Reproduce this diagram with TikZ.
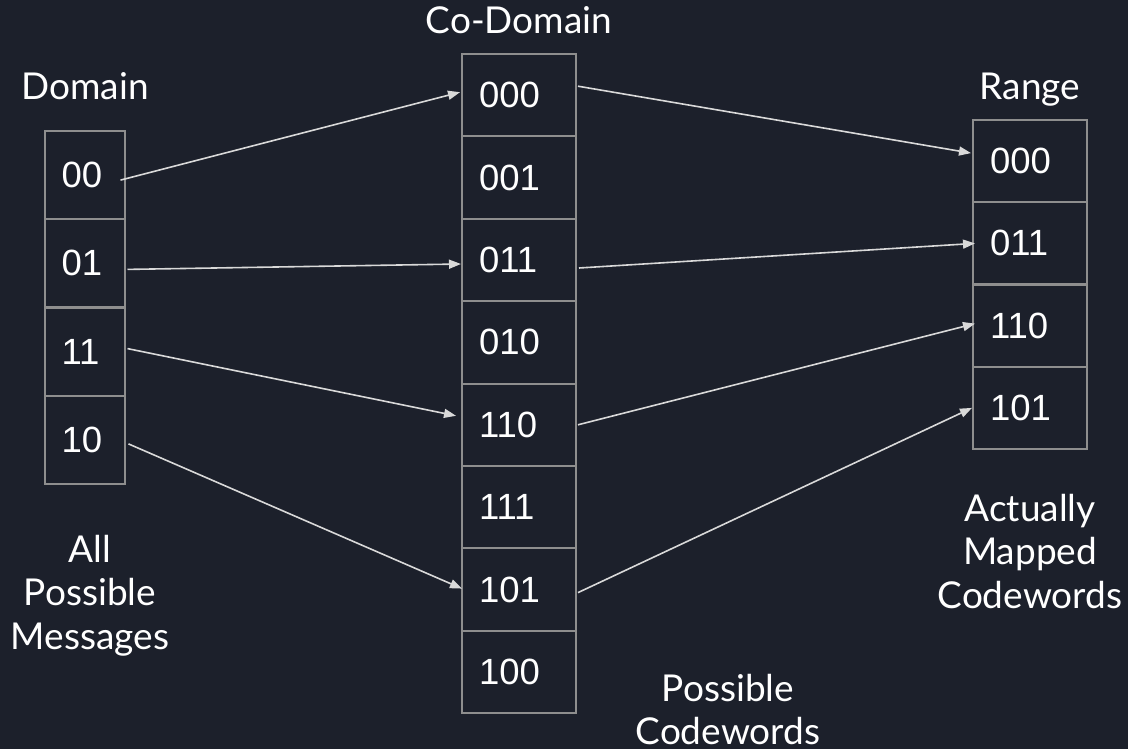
\documentclass[tikz,border=0pt]{standalone}
\usepackage{fontspec}
\setmainfont{Lato}
\newfontfamily\numfont{Liberation Sans}
\usetikzlibrary{arrows.meta,calc}
\definecolor{bg}{HTML}{1C202B}
\definecolor{boxc}{HTML}{8E8E8E}
\definecolor{arr}{HTML}{D9D9D9}
\begin{document}
\begin{tikzpicture}[x=1pt,y=-1pt,
  cell/.style={draw=boxc, line width=2pt, rectangle, text=white,
    font=\fontsize{36.5}{40}\selectfont\numfont, inner xsep=17pt, inner ysep=0pt,
    align=left, outer sep=0pt},
  dcell/.style={cell, minimum width=80pt, minimum height=88.25pt, text width=46pt},
  ccell/.style={cell, minimum width=114pt, minimum height=82.4pt, text width=80pt},
  rcell/.style={cell, minimum width=114pt, minimum height=82.25pt, text width=80pt},
  lbl/.style={text=white, font=\fontsize{37}{43.5}\selectfont, align=center, inner sep=0pt},
  link/.style={draw=arr, line width=1.6pt, -{Triangle[length=12pt,width=9pt]}}]
\fill[bg] (0,0) rectangle (1128,749);
\useasboundingbox (0,0) rectangle (1128,749);
% Domain
\node[dcell] (d00) at (84.5,175.1) {00};
\node[dcell] (d01) at (84.5,263.4) {01};
\node[dcell] (d11) at (84.5,351.6) {11};
\node[dcell] (d10) at (84.5,439.9) {10};
% Co-Domain
\node[ccell] (c000) at (519,95.2) {000};
\node[ccell] (c001) at (519,177.6) {001};
\node[ccell] (c011) at (519,260) {011};
\node[ccell] (c010) at (519,342.4) {010};
\node[ccell] (c110) at (519,424.8) {110};
\node[ccell] (c111) at (519,507.2) {111};
\node[ccell] (c101) at (519,589.6) {101};
\node[ccell] (c100) at (519,672) {100};
% Range
\node[rcell] (r000) at (1030,161.1) {000};
\node[rcell] (r011) at (1030,243.4) {011};
\node[rcell] (r110) at (1030,325.6) {110};
\node[rcell] (r101) at (1030,407.9) {101};
% labels
\node[lbl, anchor=base] (tdom) at (85,100) {Domain};
\node[lbl, anchor=base] (tco) at (519,34) {Co-Domain};
\node[lbl, anchor=base] (tran) at (1030,100) {Range};
\node[lbl, anchor=north] (tmsg) at (90,535) {All\\Possible\\Messages};
\node[lbl, anchor=north] (tact) at (1030,494) {Actually\\Mapped\\Codewords};
\node[lbl, anchor=north] (tpos) at (728,674) {Possible\\Codewords};
% arrows
\draw[link] ([shift={(-4,5)}]d00.east) -- ([shift={(-2,-3)}]c000.west);
\draw[link] ([shift={(3,6)}]d01.east) -- ([shift={(-1,4)}]c011.west);
\draw[link] ([shift={(3,-3)}]d11.east) -- ([shift={(-6,-9)}]c110.west);
\draw[link] ([shift={(4,4)}]d10.east) -- ([shift={(0,-1)}]c101.west);
\draw[link] ([shift={(2,-9)}]c000.east) -- ([shift={(-2,-8)}]r000.west);
\draw[link] ([shift={(3,8)}]c011.east) -- ([shift={(2,0)}]r011.west);
\draw[link] ([shift={(2,0)}]c110.east) -- ([shift={(2,-2)}]r110.west);
\draw[link] ([shift={(2,3)}]c101.east) -- ([shift={(-1,0)}]r101.west);
\end{tikzpicture}
\end{document}
